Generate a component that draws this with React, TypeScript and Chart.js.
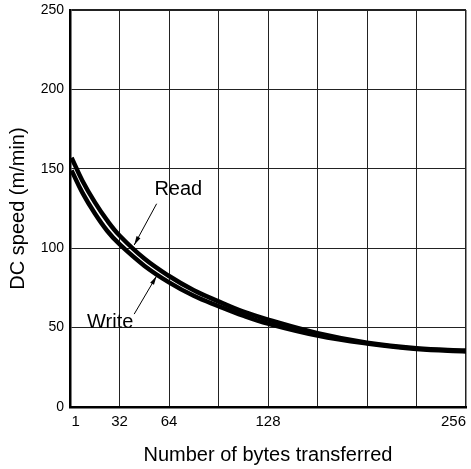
import React, { useEffect, useRef } from 'react';
import { Chart, registerables } from 'chart.js';

Chart.register(...registerables);

// ---- data ----
const bytesTransferred = [1, 8, 16, 24, 32, 48, 64, 80, 96, 112, 128, 160, 192, 224, 256];
const readSpeed = [157, 142.5, 129, 117.5, 108, 93.5, 82.5, 73.5, 66.5, 60, 55, 46.5, 40.5, 37, 35.5];
const writeSpeed = [149, 135, 122, 111, 102.5, 89, 78.5, 70, 63.5, 57.5, 52.5, 45, 40, 36.5, 35];

const xGridValues = [1, 32, 64, 96, 128, 160, 192, 224, 256];
const xTickLabelValues = [1, 32, 64, 128, 256];
const yTickValues = [0, 50, 100, 150, 200, 250];

const xTitle = 'Number of bytes transferred';
const yTitle = 'DC speed (m/min)';

// curve call-outs (in data units)
const calloutTexts = ['Read', 'Write'];
const calloutTextX = [70, 26];
const calloutTextY = [137, 53];
const calloutFromX = [56, 41.5];
const calloutFromY = [128, 58.5];
const calloutToX = [41.5, 56];
const calloutToY = [102, 82.5];

const FONT = '"Liberation Sans", Arial, Helvetica, sans-serif';

const calloutPlugin = {
  id: 'calloutPlugin',
  afterDatasetsDraw(chart: any) {
    const { ctx, scales } = chart;
    const xs = scales.x;
    const ys = scales.y;
    ctx.save();
    ctx.fillStyle = '#000';
    ctx.strokeStyle = '#000';
    ctx.font = `20px ${FONT}`;
    ctx.textAlign = 'center';
    ctx.textBaseline = 'middle';
    calloutTexts.forEach((t, i) => {
      ctx.fillText(t, xs.getPixelForValue(calloutTextX[i]), ys.getPixelForValue(calloutTextY[i]));
      const x0 = xs.getPixelForValue(calloutFromX[i]);
      const y0 = ys.getPixelForValue(calloutFromY[i]);
      const x1 = xs.getPixelForValue(calloutToX[i]);
      const y1 = ys.getPixelForValue(calloutToY[i]);
      ctx.lineWidth = 1;
      ctx.beginPath();
      ctx.moveTo(x0, y0);
      ctx.lineTo(x1, y1);
      ctx.stroke();
      const a = Math.atan2(y1 - y0, x1 - x0);
      const len = 9;
      const half = 2.2;
      const c = Math.cos(a);
      const s = Math.sin(a);
      ctx.beginPath();
      ctx.moveTo(x1, y1);
      ctx.lineTo(x1 - len * c + half * s, y1 - len * s - half * c);
      ctx.lineTo(x1 - len * c - half * s, y1 - len * s + half * c);
      ctx.closePath();
      ctx.fill();
    });
    ctx.restore();
  },
};

export default function App() {
  const canvasRef = useRef<HTMLCanvasElement | null>(null);

  useEffect(() => {
    if (!canvasRef.current) return;
    const toPoints = (ys: number[]) => bytesTransferred.map((x, i) => ({ x, y: ys[i] }));
    const chart = new Chart(canvasRef.current, {
      type: 'line',
      data: {
        datasets: [
          {
            label: 'Read',
            data: toPoints(readSpeed),
            borderColor: '#000',
            borderWidth: 4.5,
            pointRadius: 0,
            tension: 0.4,
            fill: false,
          },
          {
            label: 'Write',
            data: toPoints(writeSpeed),
            borderColor: '#000',
            borderWidth: 4.5,
            pointRadius: 0,
            tension: 0.4,
            fill: false,
          },
        ],
      },
      options: {
        responsive: false,
        animation: false,
        devicePixelRatio: 1,
        layout: { padding: { top: 10, right: 5, left: 0, bottom: 0 } },
        plugins: {
          legend: { display: false },
          tooltip: { enabled: false },
        },
        scales: {
          x: {
            type: 'linear',
            min: 0,
            max: 256,
            afterBuildTicks: (scale: any) => {
              scale.ticks = xGridValues.map((v) => ({ value: v }));
            },
            afterFit: (scale: any) => {
              scale.height = 62;
              scale.paddingLeft = 0;
              scale.paddingRight = 0;
            },
            ticks: {
              autoSkip: false,
              maxRotation: 0,
              align: 'inner',
              padding: 6,
              color: '#000',
              font: { family: FONT, size: 15 },
              callback: (v: any) => (xTickLabelValues.includes(Number(v)) ? String(v) : ''),
            },
            grid: {
              drawTicks: false,
              color: (ctx: any) => (ctx.tick && ctx.tick.value === 1 ? 'rgba(0,0,0,0)' : '#222'),
              lineWidth: (ctx: any) => (ctx.tick && ctx.tick.value === 256 ? 1.5 : 1),
            },
            border: { display: true, color: '#000', width: 2.5 },
            title: {
              display: true,
              text: xTitle,
              color: '#000',
              font: { family: FONT, size: 20 },
              padding: { top: 0, bottom: 2 },
            },
          },
          y: {
            type: 'linear',
            min: 0,
            max: 250,
            afterBuildTicks: (scale: any) => {
              scale.ticks = yTickValues.map((v) => ({ value: v }));
            },
            afterFit: (scale: any) => {
              scale.width = 70;
              scale.paddingTop = 0;
              scale.paddingBottom = 0;
            },
            ticks: {
              padding: 6,
              color: '#000',
              font: { family: FONT, size: 14 },
            },
            grid: {
              drawTicks: false,
              color: '#222',
              lineWidth: (ctx: any) => (ctx.tick && ctx.tick.value === 250 ? 2 : 1),
            },
            border: { display: true, color: '#000', width: 2.5 },
            title: {
              display: true,
              text: yTitle,
              color: '#000',
              font: { family: FONT, size: 20 },
              padding: { top: 6, bottom: 0 },
            },
          },
        },
      },
      plugins: [calloutPlugin],
    } as any);
    return () => chart.destroy();
  }, []);

  return (
    <div style={{ position: 'absolute', left: 0, top: 0, width: 471, height: 469, background: '#fff' }}>
      <canvas ref={canvasRef} width={471} height={469} style={{ display: 'block', width: 471, height: 469 }} />
    </div>
  );
}
